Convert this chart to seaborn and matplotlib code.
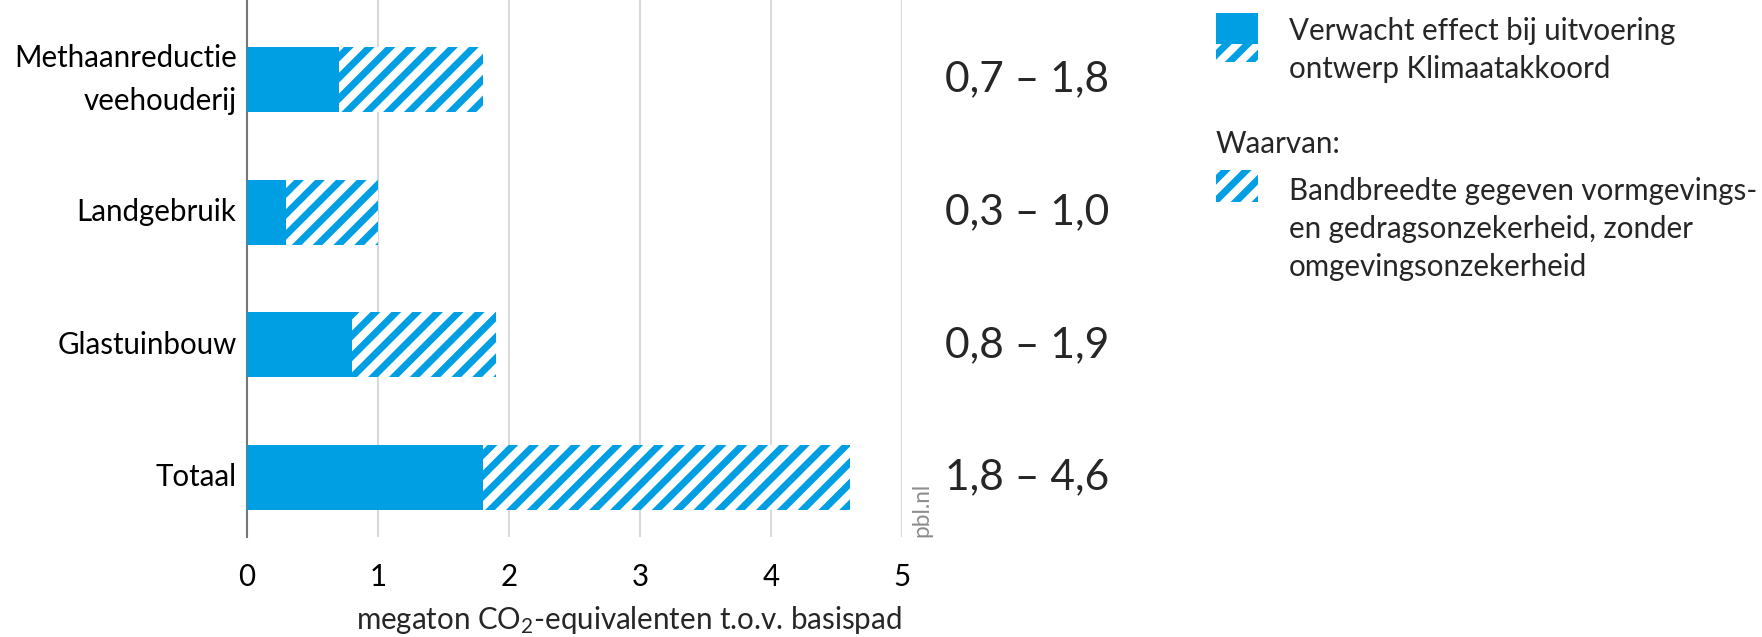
import matplotlib
matplotlib.use('Agg')
import matplotlib.pyplot as plt
import matplotlib.patches as mpatches
import numpy as np
import pandas as pd
import seaborn as sns

# data
categorieen = ['Methaanreductie\nveehouderij', 'Landgebruik', 'Glastuinbouw', 'Totaal']
laag = [0.7, 0.3, 0.8, 1.8]
hoog = [1.8, 1.0, 1.9, 4.6]
xticks = [0, 1, 2, 3, 4, 5]

blauw = '#009FE3'

sns.set_style('white')
plt.rcParams['font.family'] = ['Lato', 'DejaVu Sans']
plt.rcParams['mathtext.fontset'] = 'custom'
plt.rcParams['mathtext.rm'] = 'Lato'
plt.rcParams['mathtext.default'] = 'regular'
plt.rcParams['hatch.linewidth'] = 4.0
plt.rcParams['hatch.color'] = blauw

df = pd.DataFrame({'categorie': categorieen, 'laag': laag, 'hoog': hoog})

W, H, DPI = 1762, 637, 125
fig = plt.figure(figsize=(W / DPI, H / DPI), dpi=DPI)
ax = fig.add_axes([247 / W, 1 - 537 / H, 655 / W, 537 / H])

# hatched range (to upper bound), then solid lower bound on top
sns.barplot(data=df, x='hoog', y='categorie', orient='h', ax=ax, color='white',
            edgecolor=blauw, linewidth=0, hatch='//', width=0.49, zorder=2)
sns.barplot(data=df, x='laag', y='categorie', orient='h', ax=ax, color=blauw,
            saturation=1, linewidth=0, width=0.49, zorder=3)

ax.set_xlim(0, 5)
ax.set_ylim(3.45, -0.6)
ax.set_xticks(xticks)
ax.set_xticklabels([str(t) for t in xticks])
ax.grid(axis='x', color='#d9d9d9', linewidth=1.2, zorder=0)
ax.set_axisbelow(True)
for s in ['top', 'right', 'bottom']:
    ax.spines[s].set_visible(False)
ax.spines['left'].set_color('#777777')
ax.spines['left'].set_linewidth(1.2)
ax.tick_params(axis='both', length=0, labelsize=17, colors='black')
ax.tick_params(axis='y', pad=6)
ax.tick_params(axis='x', pad=15)
for lbl in ax.get_yticklabels():
    lbl.set_linespacing(1.65)
    lbl.set_va('center')
ax.set_ylabel('')
ax.set_xlabel('megaton CO$_2$-equivalenten t.o.v. basispad', fontsize=17)
ax.xaxis.set_label_coords(1.0, -0.125)
ax.xaxis.label.set_ha('right')

# range labels to the right
for i, (lo, hi) in enumerate(zip(laag, hoog)):
    txt = f'{lo:.1f} – {hi:.1f}'.replace('.', ',')
    ax.annotate(txt, xy=(1027 / W, i), xycoords=('figure fraction', 'data'),
                ha='center', va='center', fontsize=24.5, annotation_clip=False)

ax.text(1.03, 0.0, 'pbl.nl', transform=ax.transAxes, rotation=90,
        ha='center', va='bottom', fontsize=13, color='#8c8c8c')

# legend
lax = fig.add_axes([0, 0, 1, 1])
lax.set_xlim(0, W)
lax.set_ylim(H, 0)
lax.axis('off')
lax.add_patch(mpatches.Rectangle((1216, 13), 42, 31, facecolor=blauw, linewidth=0))
lax.add_patch(mpatches.Rectangle((1216, 44), 42, 18, facecolor='white', edgecolor=blauw,
                                 linewidth=0, hatch='//'))
lax.text(1289, 50, 'Verwacht effect bij uitvoering\nontwerp Klimaatakkoord',
         va='center', ha='left', fontsize=17, linespacing=1.45)
lax.text(1216, 144, 'Waarvan:', va='center', ha='left', fontsize=17)
lax.add_patch(mpatches.Rectangle((1216, 170), 42, 32, facecolor='white', edgecolor=blauw,
                                 linewidth=0, hatch='//'))
lax.text(1289, 229, 'Bandbreedte gegeven vormgevings-\nen gedragsonzekerheid, zonder\nomgevingsonzekerheid',
         va='center', ha='left', fontsize=17, linespacing=1.43)

fig.savefig('out.png', dpi=DPI)
